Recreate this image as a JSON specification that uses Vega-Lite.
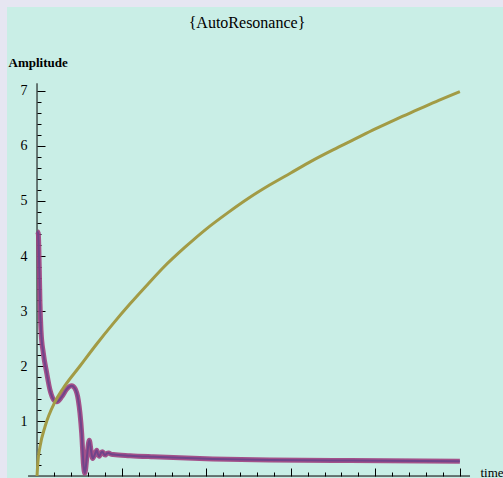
{
  "$schema": "https://vega.github.io/schema/vega-lite/v6.json",
  "width": 496,
  "height": 471,
  "autosize": {"type": "none"},
  "padding": {"left": 7, "top": 7, "right": 0, "bottom": 0},
  "background": "#e6e6f2",
  "config": {"view": {"fill": "#c9eee6", "stroke": null}},
  "title": {"text": "{AutoResonance}", "font": "Liberation Serif", "fontSize": 16, "fontWeight": "normal", "color": "black", "anchor": "middle", "dx": -8, "offset": -24},
  "datasets": {
    "axes": [
      {"t": -0.106, "t2": 5.12, "amp": 0, "amp2": 0},
      {"t": 0, "t2": 0, "amp": 0, "amp2": 7.14}
    ],
    "green": [
      {"t": 0, "amp": 0},
      {"t": 0.01, "amp": 0.25},
      {"t": 0.035, "amp": 0.53},
      {"t": 0.095, "amp": 0.9},
      {"t": 0.213, "amp": 1.35},
      {"t": 0.311, "amp": 1.6},
      {"t": 0.508, "amp": 2.0},
      {"t": 0.706, "amp": 2.4},
      {"t": 0.9, "amp": 2.77},
      {"t": 1.1, "amp": 3.13},
      {"t": 1.3, "amp": 3.47},
      {"t": 1.5, "amp": 3.8},
      {"t": 1.75, "amp": 4.16},
      {"t": 2.0, "amp": 4.49},
      {"t": 2.25, "amp": 4.78},
      {"t": 2.5, "amp": 5.05},
      {"t": 2.75, "amp": 5.29},
      {"t": 3.0, "amp": 5.51},
      {"t": 3.25, "amp": 5.73},
      {"t": 3.5, "amp": 5.93},
      {"t": 3.75, "amp": 6.12},
      {"t": 4.0, "amp": 6.31},
      {"t": 4.25, "amp": 6.49},
      {"t": 4.5, "amp": 6.66},
      {"t": 4.75, "amp": 6.83},
      {"t": 5.0, "amp": 6.99}
    ],
    "purple": [
      {"t": 0, "amp": 4.45},
      {"t": 0.015, "amp": 4.41},
      {"t": 0.027, "amp": 3.75},
      {"t": 0.035, "amp": 3.15},
      {"t": 0.047, "amp": 2.65},
      {"t": 0.075, "amp": 2.23},
      {"t": 0.115, "amp": 1.87},
      {"t": 0.154, "amp": 1.56},
      {"t": 0.2, "amp": 1.38},
      {"t": 0.233, "amp": 1.35},
      {"t": 0.292, "amp": 1.44},
      {"t": 0.351, "amp": 1.58},
      {"t": 0.41, "amp": 1.64},
      {"t": 0.449, "amp": 1.59},
      {"t": 0.488, "amp": 1.38},
      {"t": 0.508, "amp": 1.14},
      {"t": 0.528, "amp": 0.78},
      {"t": 0.55, "amp": 0.2},
      {"t": 0.565, "amp": 0.05},
      {"t": 0.59, "amp": 0.35},
      {"t": 0.618, "amp": 0.65},
      {"t": 0.64, "amp": 0.45},
      {"t": 0.658, "amp": 0.32},
      {"t": 0.68, "amp": 0.38},
      {"t": 0.706, "amp": 0.47},
      {"t": 0.72, "amp": 0.4},
      {"t": 0.737, "amp": 0.36},
      {"t": 0.756, "amp": 0.42},
      {"t": 0.776, "amp": 0.44},
      {"t": 0.79, "amp": 0.4},
      {"t": 0.807, "amp": 0.38},
      {"t": 0.825, "amp": 0.41},
      {"t": 0.847, "amp": 0.42},
      {"t": 0.87, "amp": 0.4},
      {"t": 0.902, "amp": 0.39},
      {"t": 1.1, "amp": 0.37},
      {"t": 1.375, "amp": 0.35},
      {"t": 1.69, "amp": 0.33},
      {"t": 2.08, "amp": 0.31},
      {"t": 2.75, "amp": 0.29},
      {"t": 3.7, "amp": 0.28},
      {"t": 5.0, "amp": 0.27}
    ]
  },
  "encoding": {
    "x": {
      "field": "t", "type": "quantitative",
      "scale": {"domain": [-0.355, 5.51], "nice": false, "zero": false},
      "axis": {
        "orient": "bottom", "offset": -2, "domain": false, "grid": false, "labels": false,
        "values": [0.2,0.4,0.6,0.8,1,1.2,1.4,1.6,1.8,2,2.2,2.4,2.6,2.8,3,3.2,3.4,3.6,3.8,4,4.2,4.4,4.6,4.8,5],
        "tickColor": "black", "tickWidth": 1,
        "tickSize": {"condition": {"test": "datum.value % 1 === 0", "value": -8}, "value": -4},
        "title": "time", "titleFont": "Liberation Serif", "titleFontSize": 13, "titleFontWeight": "normal", "titleColor": "black",
        "titleAngle": 0, "titleAlign": "left", "titleBaseline": "middle", "titleX": 473, "titleY": -4
      }
    },
    "y": {
      "field": "amp", "type": "quantitative",
      "scale": {"domain": [-0.036, 8.527], "nice": false, "zero": false},
      "axis": {
        "orient": "left", "offset": -30, "domain": false, "grid": false,
        "values": [0.2,0.4,0.6,0.8,1,1.2,1.4,1.6,1.8,2,2.2,2.4,2.6,2.8,3,3.2,3.4,3.6,3.8,4,4.2,4.4,4.6,4.8,5,5.2,5.4,5.6,5.8,6,6.2,6.4,6.6,6.8,7],
        "labelExpr": "datum.value % 1 === 0 ? format(datum.value, 'd') : ''",
        "labelFont": "Liberation Serif", "labelFontSize": 14, "labelColor": "black", "labelPadding": 18,
        "tickColor": "black", "tickWidth": 1,
        "tickSize": {"condition": {"test": "datum.value % 1 === 0", "value": -8}, "value": -4},
        "title": "Amplitude", "titleFont": "Liberation Serif", "titleFontSize": 13, "titleFontWeight": "bold", "titleColor": "black",
        "titleAngle": 0, "titleAlign": "left", "titleBaseline": "middle", "titleX": -29, "titleY": 55
      }
    }
  },
  "layer": [
    {
      "data": {"name": "axes"},
      "mark": {"type": "rule", "color": "black", "strokeWidth": 1},
      "encoding": {"x2": {"field": "t2"}, "y2": {"field": "amp2"}}
    },
    {
      "data": {"name": "purple"},
      "mark": {"type": "line", "color": "#9e3f80", "strokeWidth": 5, "interpolate": "monotone", "opacity": 0.9},
      "encoding": {}
    },
    {
      "data": {"name": "purple"},
      "mark": {"type": "line", "color": "#70448a", "strokeWidth": 2, "interpolate": "monotone"},
      "encoding": {}
    },
    {
      "data": {"name": "green"},
      "mark": {"type": "line", "color": "#a29b45", "strokeWidth": 3, "interpolate": "monotone"},
      "encoding": {}
    }
  ]
}
